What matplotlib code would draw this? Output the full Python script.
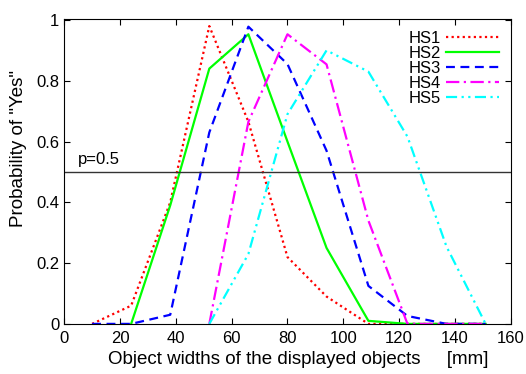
import matplotlib
matplotlib.use('Agg')
import matplotlib.pyplot as plt

plt.rcParams['font.family'] = ['Liberation Sans', 'DejaVu Sans']

# object widths [mm]
widths = [10, 24, 38, 52, 66, 80, 94, 109, 123, 137, 151]

hs1 = [0, 0.06, 0.40, 0.98, 0.665, 0.22, 0.09, 0, 0, 0, 0]
hs2 = [None, 0, 0.39, 0.84, 0.953, 0.60, 0.25, 0.01, 0, 0, 0]
hs3 = [0, 0, 0.03, 0.63, 0.978, 0.855, 0.57, 0.125, 0.026, 0, 0]
hs4 = [None, None, None, 0, 0.665, 0.953, 0.854, 0.34, 0, 0, 0]
hs5 = [None, None, None, 0, 0.23, 0.69, 0.90, 0.83, 0.616, 0.254, 0]

series = [('HS1', hs1), ('HS2', hs2), ('HS3', hs3), ('HS4', hs4), ('HS5', hs5)]
colors = ['#ff0000', '#00ff00', '#0000ff', '#ff00ff', '#00ffff']
styles = [(0, (1, 1.5)), '-', (0, (4, 2.5)), (0, (6, 2, 1, 2)), (0, (5, 2, 1, 2, 1, 2))]

fig = plt.figure(figsize=(5.26, 3.74), dpi=100)
ax = fig.add_axes([0.122, 0.134, 0.849, 0.815])

for (name, vals), c, ls in zip(series, colors, styles):
    xs = [w for w, v in zip(widths, vals) if v is not None]
    ys = [v for v in vals if v is not None]
    ax.plot(xs, ys, color=c, linestyle=ls, linewidth=1.6, label=name)

ax.axhline(0.5, color='#333333', linewidth=1.0)
ax.text(5, 0.515, 'p=0.5', fontsize=12, ha='left', va='bottom')

ax.set_xlim(0, 160)
ax.set_ylim(0, 1.003)
ax.set_xticks(range(0, 161, 20))
ax.set_yticks([0, 0.2, 0.4, 0.6, 0.8, 1])
ax.set_yticklabels(['0', '0.2', '0.4', '0.6', '0.8', '1'])
ax.tick_params(direction='in', top=True, right=True, labelsize=12, length=4)
ax.tick_params(axis='x', pad=5)
ax.set_xlabel('Object widths of the displayed objects     [mm]', fontsize=13.5)
ax.xaxis.set_label_coords(0.525, -0.088)
ax.set_ylabel('Probability of "Yes"', fontsize=13.5)
ax.yaxis.set_label_coords(-0.083, 0.577)

leg = ax.legend(loc='upper right', frameon=False, markerfirst=False, fontsize=12,
                handlelength=3.2, labelspacing=0.0, borderaxespad=0.3, handletextpad=0.3)

fig.savefig('out.png', dpi=100)
